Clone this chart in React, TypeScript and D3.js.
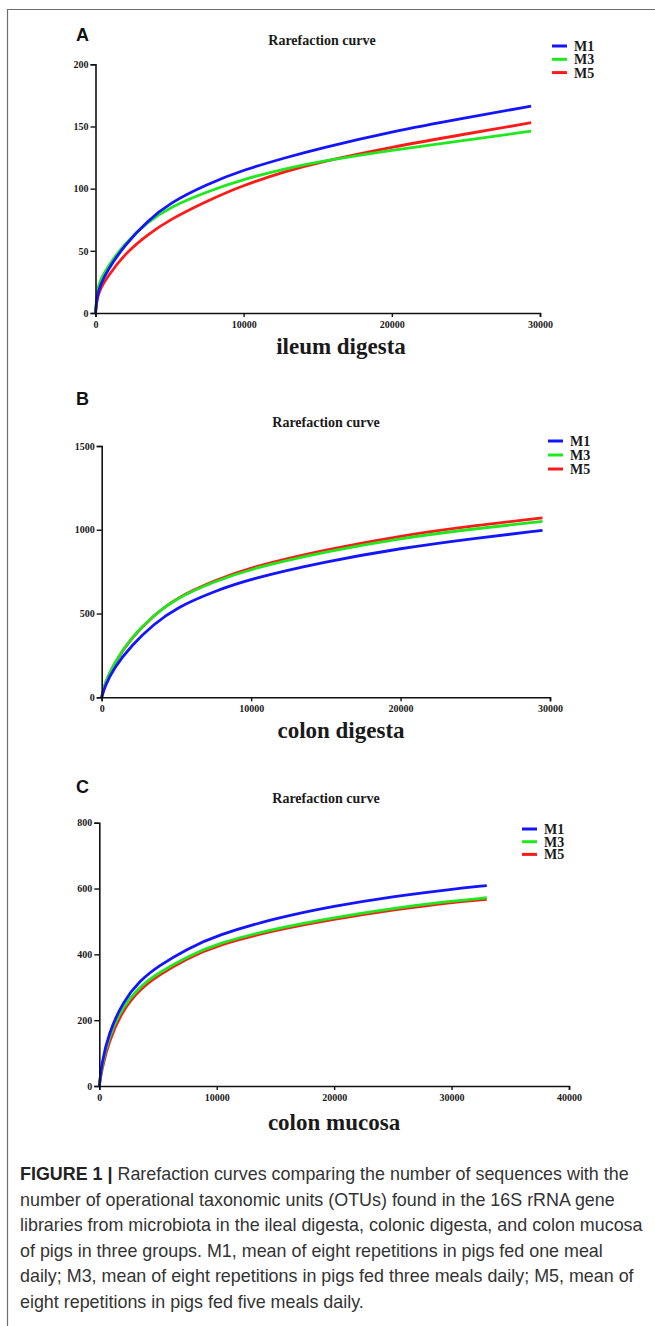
import React, { useRef, useEffect } from "react";
import * as d3 from "d3";

// ---- data ----
const seriesNames = ["M1", "M3", "M5"];
const seriesColors = ["#1414ff", "#1ee81e", "#ff1a1a"];

// A: ileum digesta
const ileumSeqs = [0, 100, 300, 800, 2000, 3500, 5000, 7500, 10000, 13000, 15000, 20000, 25000, 29400];
const ileumM1 = [0, 13, 22, 34.5, 55, 74, 88.5, 103.5, 115.2, 125.5, 132, 146, 157, 166.4];
const ileumM3 = [0, 18, 26, 37, 56.5, 73, 85, 97.5, 107.7, 116.5, 121.5, 131, 139, 146.2];
const ileumM5 = [0, 11.6, 19, 29, 48, 63, 75, 90, 103, 114.5, 121, 133.5, 144, 153];
const ileumXTicks = [0, 10000, 20000, 30000];
const ileumYTicks = [0, 50, 100, 150, 200];

// B: colon digesta
const colonSeqs = [0, 200, 800, 2000, 3500, 5000, 7500, 10000, 15000, 20000, 25000, 29500];
const colonM1 = [0, 63, 173, 311, 438, 535, 632, 708, 810, 890, 950, 996];
const colonM3 = [0, 83, 202, 361, 492, 592, 690, 768, 870, 950, 1007, 1050];
const colonM5 = [0, 80, 198, 357, 490, 594, 695, 778, 882, 965, 1025, 1071];
const colonXTicks = [0, 10000, 20000, 30000];
const colonYTicks = [0, 500, 1000, 1500];

// C: colon mucosa
const mucosaSeqs = [0, 200, 800, 2000, 3500, 5000, 7500, 10000, 15000, 20000, 25000, 30000, 33000];
const mucosaM1 = [0, 69, 160, 256, 322, 364, 417, 458, 510, 547, 576, 598, 609];
const mucosaM3 = [0, 59, 150, 242, 304, 343, 393, 433, 479, 512, 540, 562, 572];
const mucosaM5 = [0, 49, 135, 232, 296, 336, 388, 428, 474, 507, 535, 558, 567];
const mucosaXTicks = [0, 10000, 20000, 30000, 40000];
const mucosaYTicks = [0, 200, 400, 600, 800];

const captionLines = [
  "number of operational taxonomic units (OTUs) found in the 16S rRNA gene",
  "libraries from microbiota in the ileal digesta, colonic digesta, and colon mucosa",
  "of pigs in three groups. M1, mean of eight repetitions in pigs fed one meal",
  "daily; M3, mean of eight repetitions in pigs fed three meals daily; M5, mean of",
  "eight repetitions in pigs fed five meals daily.",
];

const serif = "'Liberation Serif', 'Times New Roman', serif";
const sans = "'Liberation Sans', Arial, sans-serif";

interface PanelSpec {
  letter: string;
  xlabel: string;
  seqs: number[];
  values: number[][];
  xTicks: number[];
  yTicks: number[];
  // layout
  left: number;
  right: number;
  top: number;
  bottom: number;
  titleX: number;
  titleY: number;
  letterY: number;
  legendX: number;
  legendY: number;
  legendGap: number;
  xlabelX: number;
  xlabelY: number;
}

const panels: PanelSpec[] = [
  {
    letter: "A", xlabel: "ileum digesta", seqs: ileumSeqs,
    values: [ileumM1, ileumM3, ileumM5], xTicks: ileumXTicks, yTicks: ileumYTicks,
    left: 95.5, right: 540, top: 64.3, bottom: 313,
    titleX: 322, titleY: 45, letterY: 41, legendX: 552, legendY: 46, legendGap: 13.3,
    xlabelX: 341, xlabelY: 354,
  },
  {
    letter: "B", xlabel: "colon digesta", seqs: colonSeqs,
    values: [colonM1, colonM3, colonM5], xTicks: colonXTicks, yTicks: colonYTicks,
    left: 101.7, right: 550, top: 446, bottom: 697.3,
    titleX: 326, titleY: 427, letterY: 405, legendX: 548, legendY: 441, legendGap: 14,
    xlabelX: 341, xlabelY: 738,
  },
  {
    letter: "C", xlabel: "colon mucosa", seqs: mucosaSeqs,
    values: [mucosaM1, mucosaM3, mucosaM5], xTicks: mucosaXTicks, yTicks: mucosaYTicks,
    left: 99.3, right: 569, top: 822.7, bottom: 1086,
    titleX: 326, titleY: 803, letterY: 793, legendX: 522, legendY: 829, legendGap: 12.7,
    xlabelX: 334, xlabelY: 1130,
  },
];

export default function App() {
  const svgRef = useRef<SVGSVGElement>(null);

  useEffect(() => {
    if (!svgRef.current) return;
    const svg = d3.select(svgRef.current);
    svg.selectAll("*").remove();

    const W = 655;
    const H = 1326;
    svg.attr("width", W).attr("height", H).attr("viewBox", `0 0 ${W} ${H}`);

    svg.append("rect").attr("width", W).attr("height", H).attr("fill", "#fff");

    // frame (top and left edges)
    svg.append("path")
      .attr("d", `M7.5,${H} V9.5 H${W}`)
      .attr("fill", "none")
      .attr("stroke", "#6e6e6e")
      .attr("stroke-width", 1.2);

    panels.forEach((p) => {
      const xMax = p.xTicks[p.xTicks.length - 1];
      const yMax = p.yTicks[p.yTicks.length - 1];
      const x = d3.scaleLinear().domain([0, xMax]).range([p.left, p.right]);
      const y = d3.scaleLinear().domain([0, yMax]).range([p.bottom, p.top]);

      const g = svg.append("g");

      // panel letter
      g.append("text")
        .attr("x", 76)
        .attr("y", p.letterY)
        .attr("font-family", sans)
        .attr("font-weight", "bold")
        .attr("font-size", "18px")
        .attr("fill", "#111")
        .text(p.letter);

      // title
      g.append("text")
        .attr("x", p.titleX)
        .attr("y", p.titleY)
        .attr("text-anchor", "middle")
        .attr("font-family", serif)
        .attr("font-weight", "bold")
        .attr("font-size", "14px")
        .attr("fill", "#1a1a1a")
        .text("Rarefaction curve");

      // curves, M5 underneath, M1 on top
      const line = d3.line<[number, number]>()
        .x((d) => x(d[0]))
        .y((d) => y(d[1]))
        .curve(d3.curveBasis);

      [2, 1, 0].forEach((si) => {
        const pts: [number, number][] = p.seqs.map((s, i) => [s, p.values[si][i]]);
        g.append("path")
          .datum(pts)
          .attr("fill", "none")
          .attr("stroke", seriesColors[si])
          .attr("stroke-width", 2.8)
          .attr("stroke-linejoin", "round")
          .attr("d", line);
      });

      // y axis
      const yAxis = g.append("g")
        .attr("transform", `translate(${p.left},0)`)
        .call(d3.axisLeft(y).tickValues(p.yTicks).tickSize(5).tickPadding(2).tickFormat(d3.format("d")));
      yAxis.select(".domain").attr("stroke", "#111").attr("stroke-width", 1.6);
      yAxis.selectAll(".tick line").attr("stroke", "#111").attr("stroke-width", 1.4);
      yAxis.selectAll(".tick text")
        .attr("fill", "#1a1a1a")
        .attr("font-size", "10px")
        .attr("font-weight", "bold")
        .attr("font-family", serif);

      // x axis
      const xAxis = g.append("g")
        .attr("transform", `translate(0,${p.bottom})`)
        .call(d3.axisBottom(x).tickValues(p.xTicks).tickSize(4).tickPadding(4).tickFormat(d3.format("d")));
      xAxis.select(".domain").attr("stroke", "#111").attr("stroke-width", 1.6);
      xAxis.selectAll(".tick line").attr("stroke", "#111").attr("stroke-width", 1.4);
      xAxis.selectAll(".tick text")
        .attr("fill", "#1a1a1a")
        .attr("font-size", "10px")
        .attr("font-weight", "bold")
        .attr("font-family", serif);

      // x label
      g.append("text")
        .attr("x", p.xlabelX)
        .attr("y", p.xlabelY)
        .attr("text-anchor", "middle")
        .attr("font-family", serif)
        .attr("font-weight", "bold")
        .attr("font-size", "23px")
        .attr("fill", "#1a1a1a")
        .text(p.xlabel);

      // legend
      seriesNames.forEach((name, i) => {
        const ly = p.legendY + i * p.legendGap;
        g.append("line")
          .attr("x1", p.legendX)
          .attr("x2", p.legendX + 15)
          .attr("y1", ly)
          .attr("y2", ly)
          .attr("stroke", seriesColors[i])
          .attr("stroke-width", 3);
        g.append("text")
          .attr("x", p.legendX + 22)
          .attr("y", ly + 5)
          .attr("font-family", serif)
          .attr("font-weight", "bold")
          .attr("font-size", "14px")
          .attr("fill", "#1a1a1a")
          .text(name);
      });
    });

    // caption
    const cap = svg.append("g")
      .attr("font-family", sans)
      .attr("font-size", "17.9px")
      .attr("fill", "#333");

    const first = cap.append("text").attr("x", 20).attr("y", 1180);
    first.append("tspan").attr("font-weight", "bold").attr("fill", "#222").text("FIGURE 1 | ");
    first.append("tspan").text("Rarefaction curves comparing the number of sequences with the");

    captionLines.forEach((t, i) => {
      cap.append("text")
        .attr("x", 20)
        .attr("y", 1180 + (i + 1) * 25.5)
        .text(t);
    });
  }, []);

  return (
    <div style={{ position: "absolute", left: 0, top: 0 }}>
      <svg ref={svgRef} style={{ display: "block" }} />
    </div>
  );
}
